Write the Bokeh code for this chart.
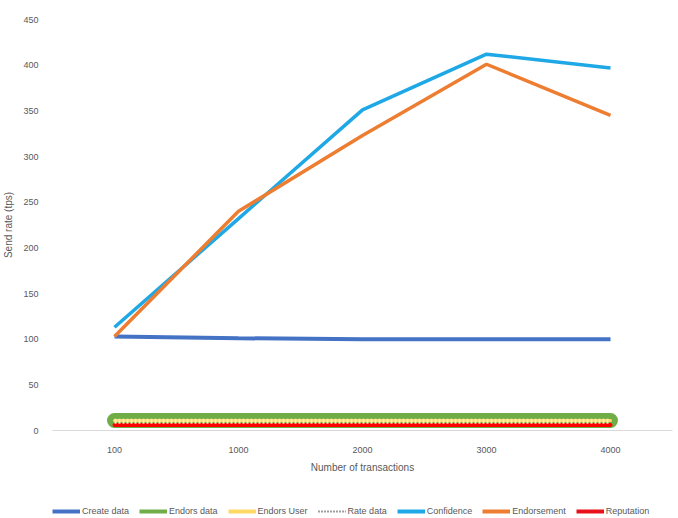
from bokeh.plotting import figure
from bokeh.layouts import column
from bokeh.models import Range1d, FactorRange, Legend, LegendItem
from bokeh.embed import file_html
from bokeh.resources import INLINE

# Transaction counts (x categories)
transactions = ["100", "1000", "2000", "3000", "4000"]

# Send rate (tps) per function
create_data = [103, 101, 100, 100, 100]
endors_data = [11, 11, 11, 11, 11]
endors_user = [11, 11, 11, 11, 11]
rate_data = [10, 10, 10, 10, 10]
confidence = [113, 232, 351, 412, 397]
endorsement = [103, 240, 323, 401, 345]
reputation = [6, 6, 6, 6, 6]

series_names = ["Create data", "Endors data", "Endors User", "Rate data",
                "Confidence", "Endorsement", "Reputation"]

FONT = "Liberation Sans"
GREY = "#595959"

p = figure(
    frame_width=620, frame_height=411,
    x_range=FactorRange(*transactions, range_padding=0),
    y_range=Range1d(0, 450),
    output_backend="svg", toolbar_location=None,
    min_border_left=52, min_border_right=6, min_border_top=19, min_border_bottom=46,
)
p.outline_line_color = None
p.xgrid.grid_line_color = None
p.ygrid.grid_line_color = None

# axes
p.yaxis.ticker = [0, 50, 100, 150, 200, 250, 300, 350, 400, 450]
p.yaxis.axis_line_color = None
p.yaxis.major_tick_line_color = None
p.yaxis.minor_tick_line_color = None
p.yaxis.axis_label = "Send rate (tps)"
p.xaxis.axis_label = "Number of transactions"
p.xaxis.axis_line_color = "#d9d9d9"
p.xaxis.axis_line_width = 1
p.xaxis.major_tick_line_color = None
p.xaxis.minor_tick_line_color = None
for ax in (p.xaxis, p.yaxis):
    ax.major_label_text_font = FONT
    ax.major_label_text_font_size = "9px"
    ax.major_label_text_color = GREY
    ax.axis_label_text_font = FONT
    ax.axis_label_text_font_size = "10px"
    ax.axis_label_text_font_style = "normal"
    ax.axis_label_text_color = GREY
p.xaxis.major_label_standoff = 10
p.xaxis.axis_label_standoff = 6
p.yaxis.major_label_standoff = 8
p.yaxis.axis_label_standoff = 6

p.line(transactions, create_data, line_color="#4472C4", line_width=4)
p.line(transactions, endors_data, line_color="#70AD47", line_width=15, line_cap="round")
p.line(transactions, endors_user, line_color="#FFD966", line_width=3, line_cap="round")
p.line(transactions, reputation, line_color="#FF0000", line_width=4, line_cap="round")
p.line(transactions, rate_data, line_color="#FFF2B0", line_width=5, line_dash="2 2")
p.line(transactions, confidence, line_color="#1FA8E6", line_width=3.5)
p.line(transactions, endorsement, line_color="#ED7D31", line_width=3.5)

# legend strip underneath the chart
lg = figure(width=678, height=42, x_range=Range1d(0, 1), y_range=Range1d(0, 1),
            output_backend="svg", toolbar_location=None, min_border=0)
lg.axis.visible = False
lg.grid.visible = False
lg.outline_line_color = None

swatch_styles = [
    dict(line_color="#4472C4", line_width=4),
    dict(line_color="#70AD47", line_width=4),
    dict(line_color="#FFD966", line_width=4),
    dict(line_color="#404040", line_width=2, line_dash="1 2"),
    dict(line_color="#1FA8E6", line_width=4),
    dict(line_color="#ED7D31", line_width=4),
    dict(line_color="#E8101A", line_width=4),
]
series_values = [create_data, endors_data, endors_user, rate_data,
                 confidence, endorsement, reputation]
items = []
for name, vals, style in zip(series_names, series_values, swatch_styles):
    # hidden copy of each series, used only for its legend swatch
    r = lg.line(x=list(range(len(vals))), y=vals, visible=False, **style)
    items.append(LegendItem(label=name, renderers=[r]))

legend = Legend(
    items=items, orientation="horizontal", location=(0, 2),
    label_text_font=FONT, label_text_font_size="9px", label_text_color=GREY,
    glyph_width=28, glyph_height=10, label_standoff=2, spacing=10,
    padding=0, margin=0, border_line_color=None, background_fill_alpha=0,
    inactive_fill_alpha=0,
)
lg.add_layout(legend)

open("out.html", "w").write(file_html(column(p, lg, spacing=0), INLINE))
